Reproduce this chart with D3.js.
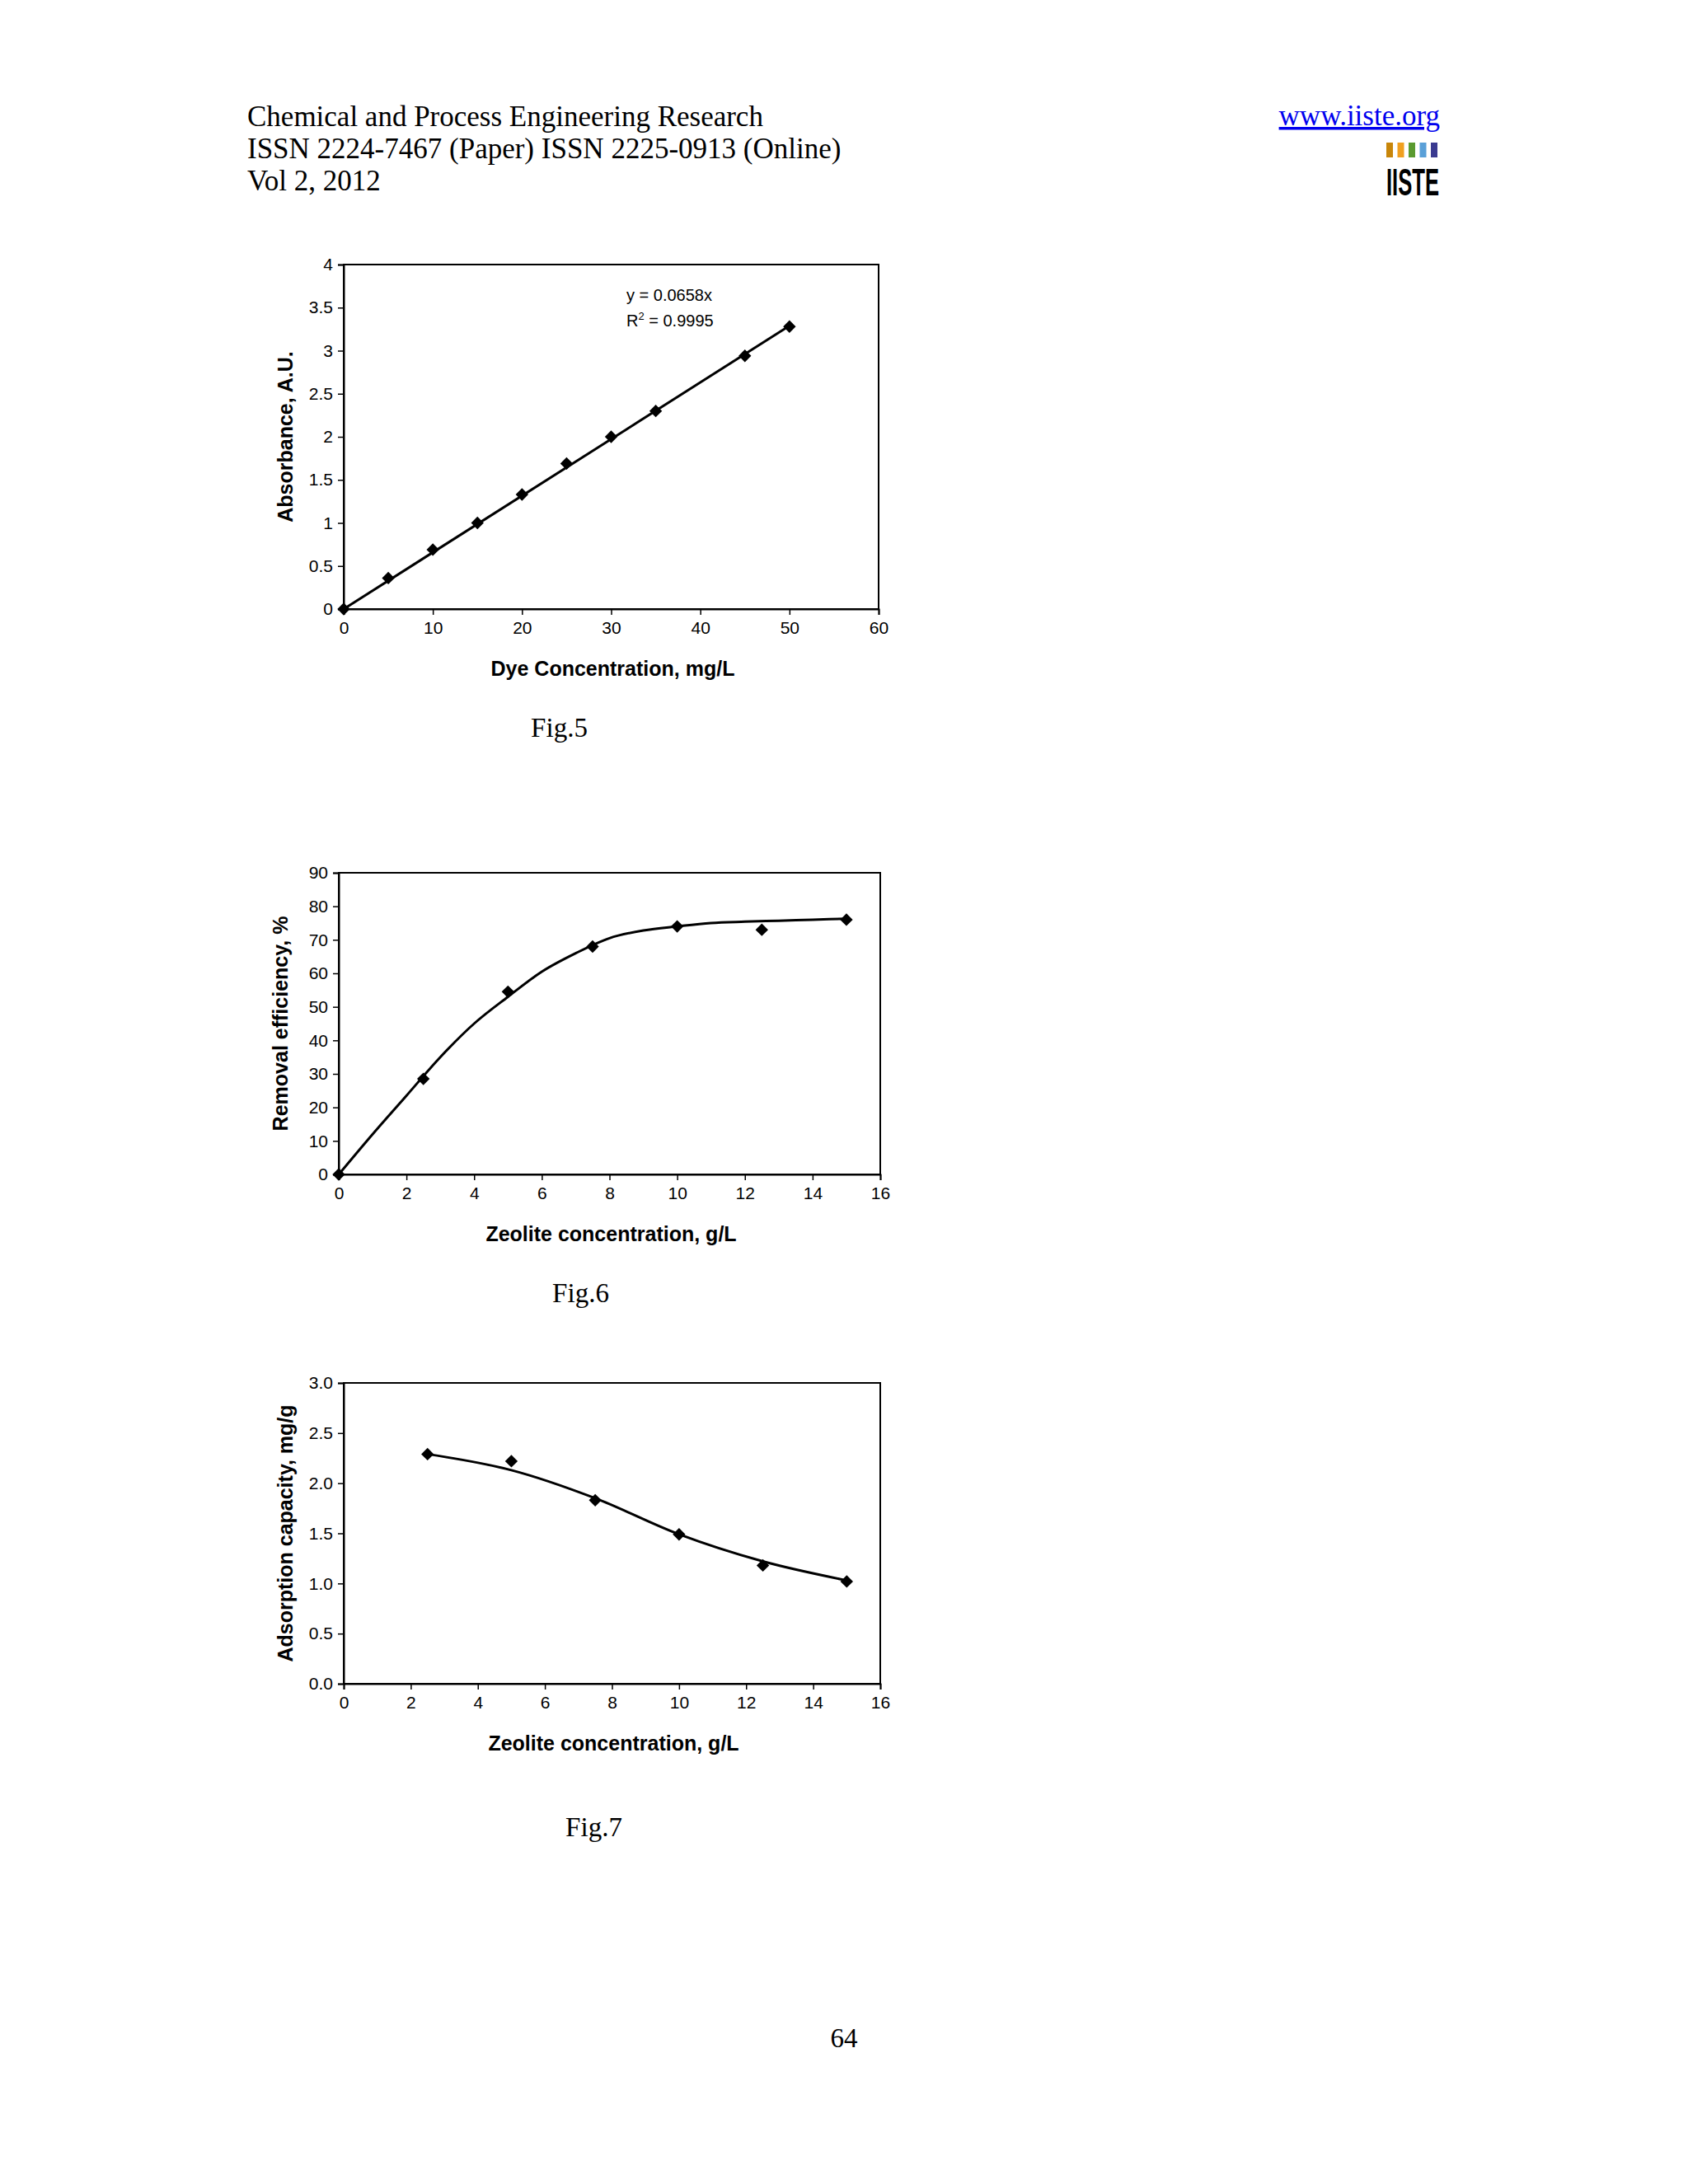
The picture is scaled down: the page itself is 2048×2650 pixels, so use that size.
<!DOCTYPE html>
<html><head><meta charset="utf-8">
<script src="https://cdn.jsdelivr.net/npm/d3@7"></script>
<style>body{margin:0;background:#fff}</style>
</head><body>
<svg id="page" width="2048" height="2650"></svg>
<script>
// fig 5 data
const dyeConc = [0, 5, 10, 15, 20, 25, 30, 35, 45, 50];
const absorbance = [0, 0.36, 0.69, 1.0, 1.33, 1.69, 2.0, 2.3, 2.94, 3.28];
const slope = 0.0658;
const fig5YTicks = [0, 0.5, 1, 1.5, 2, 2.5, 3, 3.5, 4];
const fig5XTicks = [0, 10, 20, 30, 40, 50, 60];

// fig 6 data
const zeoConc = [0, 2.5, 5, 7.5, 10, 12.5, 15];
const removal = [0, 28.5, 54.5, 68, 74, 73, 76];
const removalCurveX = [0, 1, 2, 3, 4, 5, 6, 7, 8, 9, 10, 11, 12, 13, 14, 15];
const removalCurveY = [0, 12, 23.5, 35, 45, 53, 60.5, 66, 70.5, 72.8, 74, 75, 75.4, 75.7, 76, 76.3];

// fig 7 data
const zeoConc7 = [2.5, 5, 7.5, 10, 12.5, 15];
const capacity = [2.29, 2.22, 1.83, 1.49, 1.18, 1.02];
const capCurveY = [2.29, 2.13, 1.85, 1.49, 1.22, 1.03];

const zeoTicks = [0, 2, 4, 6, 8, 10, 12, 14, 16];

const svg = d3.select('#page');
const serif = "'Liberation Serif', 'Times New Roman', serif";
const sans = "'Liberation Sans', Arial, sans-serif";

// header
const head = ["Chemical and Process Engineering Research",
  "ISSN 2224-7467 (Paper) ISSN 2225-0913 (Online)", "Vol 2, 2012"];
svg.selectAll('text.head').data(head).join('text')
  .attr('x', 300).attr('y', (d, i) => 153 + i * 39)
  .attr('font-family', serif).attr('font-size', 35).text(d => d);
svg.append('text').attr('x', 1747).attr('y', 152).attr('text-anchor', 'end')
  .attr('font-family', serif).attr('font-size', 35).attr('fill', '#0000ee')
  .attr('text-decoration', 'underline').text('www.iiste.org');
// logo
const logoCols = ['#c8860a', '#f0a020', '#5a9a30', '#5aa0d8', '#3a3a90'];
svg.selectAll('rect.logo').data(logoCols).join('rect')
  .attr('x', (d, i) => 1682 + i * 13.5).attr('y', 173).attr('width', 8).attr('height', 18).attr('fill', d => d);
svg.append('text').attr('x', 1682).attr('y', 237).attr('font-family', sans)
  .attr('font-weight', 'bold').attr('font-size', 46).attr('textLength', 64)
  .attr('lengthAdjust', 'spacingAndGlyphs').text('IISTE');

function chart(o) {
  const x = d3.scaleLinear().domain(o.xd).range([o.l, o.r]);
  const y = d3.scaleLinear().domain(o.yd).range([o.b, o.t]);
  const g = svg.append('g');
  g.append('rect').attr('x', o.l).attr('y', o.t).attr('width', o.r - o.l).attr('height', o.b - o.t)
    .attr('fill', 'none').attr('stroke', '#000').attr('stroke-width', 2);
  const xa = g.append('g').attr('transform', `translate(0,${o.b})`)
    .call(d3.axisBottom(x).tickValues(o.xt).tickSize(7).tickPadding(8).tickFormat(o.xf || d3.format('')));
  const ya = g.append('g').attr('transform', `translate(${o.l},0)`)
    .call(d3.axisLeft(y).tickValues(o.yt).tickSize(7).tickPadding(6).tickFormat(o.yf || (d => d)));
  [xa, ya].forEach(a => {
    a.select('.domain').attr('stroke-width', 2);
    a.selectAll('.tick line').attr('stroke-width', 1.5);
    a.selectAll('.tick text').attr('font-family', sans).attr('font-size', 21).attr('fill', '#000');
  });
  g.append('text').attr('x', (o.l + o.r) / 2 + 2).attr('y', o.b + 81).attr('text-anchor', 'middle')
    .attr('font-family', sans).attr('font-weight', 'bold').attr('font-size', 25).text(o.xl);
  g.append('text').attr('transform', `translate(${o.l - 62},${(o.t + o.b) / 2}) rotate(-90)`)
    .attr('text-anchor', 'middle').attr('font-family', sans).attr('font-weight', 'bold')
    .attr('font-size', 25).text(o.yl);
  g.append('path').datum(o.cx.map((v, i) => [v, o.cy[i]]))
    .attr('d', d3.line().x(d => x(d[0])).y(d => y(d[1])).curve(d3.curveMonotoneX))
    .attr('fill', 'none').attr('stroke', '#000').attr('stroke-width', 3);
  g.selectAll('path.pt').data(o.px.map((v, i) => [v, o.py[i]])).join('path')
    .attr('transform', d => `translate(${x(d[0])},${y(d[1])})`)
    .attr('d', d3.symbol(d3.symbolDiamond2, 150))
    .attr('fill', '#000');
  g.append('text').attr('x', o.l + (o.r - o.l) / 2).attr('y', o.b + 155 + (o.capDy || 0)).attr('text-anchor', 'middle')
    .attr('font-family', serif).attr('font-size', 33).attr('dx', o.capDx).text(o.cap);
  return {x, y, g};
}

const f5 = chart({l: 417, r: 1066, t: 321, b: 739, xd: [0, 60], yd: [0, 4],
  xt: fig5XTicks, yt: fig5YTicks, xl: 'Dye Concentration, mg/L', yl: 'Absorbance, A.U.',
  cx: [0, 50], cy: [0, 50 * slope], px: dyeConc, py: absorbance, cap: 'Fig.5', capDx: -63});
const eq = f5.g.append('text').attr('x', 760).attr('y', 365).attr('font-family', sans).attr('font-size', 20);
eq.text('y = 0.0658x');
const r2 = f5.g.append('text').attr('x', 760).attr('y', 396).attr('font-family', sans).attr('font-size', 20);
r2.append('tspan').text('R');
r2.append('tspan').attr('dy', -8).attr('font-size', 13).text('2');
r2.append('tspan').attr('dy', 8).text(' = 0.9995');

chart({l: 411, r: 1068, t: 1059, b: 1425, xd: [0, 16], yd: [0, 90],
  xt: zeoTicks, yt: d3.range(0, 91, 10), xl: 'Zeolite concentration, g/L', yl: 'Removal efficiency, %',
  cx: removalCurveX, cy: removalCurveY, px: zeoConc, py: removal, cap: 'Fig.6', capDx: -35});

chart({l: 417, r: 1068, t: 1678, b: 2043, xd: [0, 16], yd: [0, 3],
  xt: zeoTicks, yt: [0, 0.5, 1, 1.5, 2, 2.5, 3], yf: d3.format('.1f'),
  xl: 'Zeolite concentration, g/L', yl: 'Adsorption capacity, mg/g',
  cx: zeoConc7, cy: capCurveY, px: zeoConc7, py: capacity, cap: 'Fig.7', capDx: -22, capDy: 30});

svg.append('text').attr('x', 1024).attr('y', 2484).attr('text-anchor', 'middle')
  .attr('font-family', serif).attr('font-size', 33).text('64');
</script>
</body></html>
